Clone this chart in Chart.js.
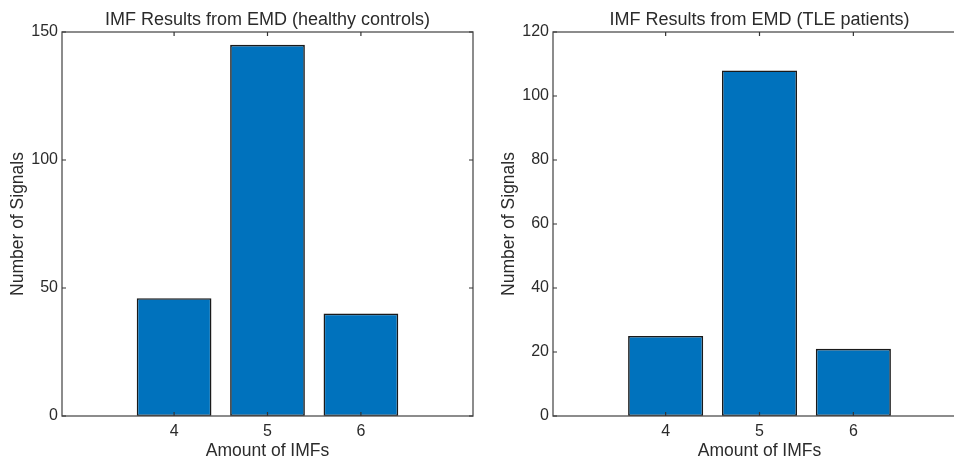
<!DOCTYPE html>
<html>
<head>
<meta charset="utf-8">
<script src="https://cdn.jsdelivr.net/npm/chart.js@4"></script>
<style>
  html, body { margin: 0; padding: 0; background: #ffffff; }
  #wrap { position: relative; width: 954px; height: 461px; overflow: hidden; background: #ffffff; }
  canvas { position: absolute; top: 0; }
</style>
</head>
<body>
<div id="wrap">
  <canvas id="c1" width="474" height="461" style="left:0px"></canvas>
  <canvas id="c2" width="490" height="461" style="left:477px"></canvas>
</div>
<script>
// ---- data ----
const imfCounts = [4, 5, 6];
const healthySignals = [46, 145, 40];
const tlePatients = [25, 108, 21];
const healthyYTicks = [0, 50, 100, 150];
const tleYTicks = [0, 20, 40, 60, 80, 100, 120];
const titles = ['IMF Results from EMD (healthy controls)', 'IMF Results from EMD (TLE patients)'];
const xTitle = 'Amount of IMFs';
const yTitle = 'Number of Signals';

const FONT = "'Liberation Sans', Arial, Helvetica, sans-serif";
const TEXT = '#2b2b2b';
const AXIS = '#5c5c5c';

const framePlugin = {
  id: 'frame',
  afterDatasetsDraw(chart) {
    const { ctx, chartArea: a, scales } = chart;
    ctx.save();
    ctx.strokeStyle = AXIS;
    ctx.lineWidth = 1.4;
    ctx.strokeRect(a.left, a.top, a.right - a.left, a.bottom - a.top);
    ctx.strokeStyle = '#333';
    ctx.lineWidth = 1.2;
    const L = 4;
    ctx.beginPath();
    scales.x.ticks.forEach(t => {
      const px = scales.x.getPixelForValue(t.value);
      ctx.moveTo(px, a.bottom); ctx.lineTo(px, a.bottom - L);
      ctx.moveTo(px, a.top); ctx.lineTo(px, a.top + L);
    });
    scales.y.ticks.forEach(t => {
      const py = scales.y.getPixelForValue(t.value);
      ctx.moveTo(a.left, py); ctx.lineTo(a.left + L, py);
      ctx.moveTo(a.right, py); ctx.lineTo(a.right - L, py);
    });
    ctx.stroke();
    ctx.restore();
  }
};

function makeChart(id, values, yTicks, title, yAxisWidth, yTitlePad, rightPad) {
  const yMax = yTicks[yTicks.length - 1];
  return new Chart(document.getElementById(id), {
    type: 'bar',
    data: {
      datasets: [{
        xAxisID: 'x',
        yAxisID: 'y',
        data: imfCounts.map((x, i) => ({ x: x, y: values[i] })),
        backgroundColor: '#0072BD',
        borderColor: '#1a1a1a',
        borderWidth: 1.6,
        borderSkipped: false,
        categoryPercentage: 1.0,
        barPercentage: 0.8
      }]
    },
    options: {
      responsive: false,
      animation: false,
      devicePixelRatio: 1,
      layout: { padding: { left: 0, right: rightPad, top: 0, bottom: 0 } },
      plugins: {
        legend: { display: false },
        tooltip: { enabled: false },
        title: { display: false }
      },
      scales: {
        x: {
          type: 'linear',
          position: 'bottom',
          min: 2.8,
          max: 7.2,
          offset: false,
          grid: { display: false, drawTicks: false },
          border: { display: false },
          afterBuildTicks: (s) => { s.ticks = imfCounts.map(v => ({ value: v })); },
          afterFit: (s) => { s.height = 45; },
          ticks: {
            color: TEXT,
            padding: 6,
            font: { family: FONT, size: 16 },
            maxRotation: 0,
            callback: (v) => String(v)
          },
          title: {
            display: true,
            text: xTitle,
            color: TEXT,
            font: { family: FONT, size: 17.5 },
            padding: { top: 0, bottom: -1 }
          }
        },
        y: {
          min: 0,
          max: yMax,
          grid: { display: false, drawTicks: false },
          border: { display: false },
          afterBuildTicks: (s) => { s.ticks = yTicks.map(v => ({ value: v })); },
          afterFit: (s) => { s.width = yAxisWidth; },
          ticks: {
            color: TEXT,
            padding: 4,
            font: { family: FONT, size: 16 },
            callback: (v) => String(v)
          },
          title: {
            display: true,
            text: yTitle,
            color: TEXT,
            font: { family: FONT, size: 17.5 },
            padding: { top: yTitlePad, bottom: 0 }
          }
        },
        xTop: {
          type: 'linear',
          axis: 'x',
          position: 'top',
          display: true,
          min: 2.8,
          max: 7.2,
          grid: { display: false, drawTicks: false },
          border: { display: false },
          ticks: { display: false },
          afterFit: (s) => { s.height = 32; },
          title: {
            display: true,
            text: title,
            color: TEXT,
            font: { family: FONT, size: 18 },
            padding: { top: 9, bottom: 0 }
          }
        }
      }
    },
    plugins: [framePlugin]
  });
}

makeChart('c1', healthySignals, healthyYTicks, titles[0], 62, 8, 1);
makeChart('c2', tlePatients, tleYTicks, titles[1], 76, 22, 1);
</script>
</body>
</html>
